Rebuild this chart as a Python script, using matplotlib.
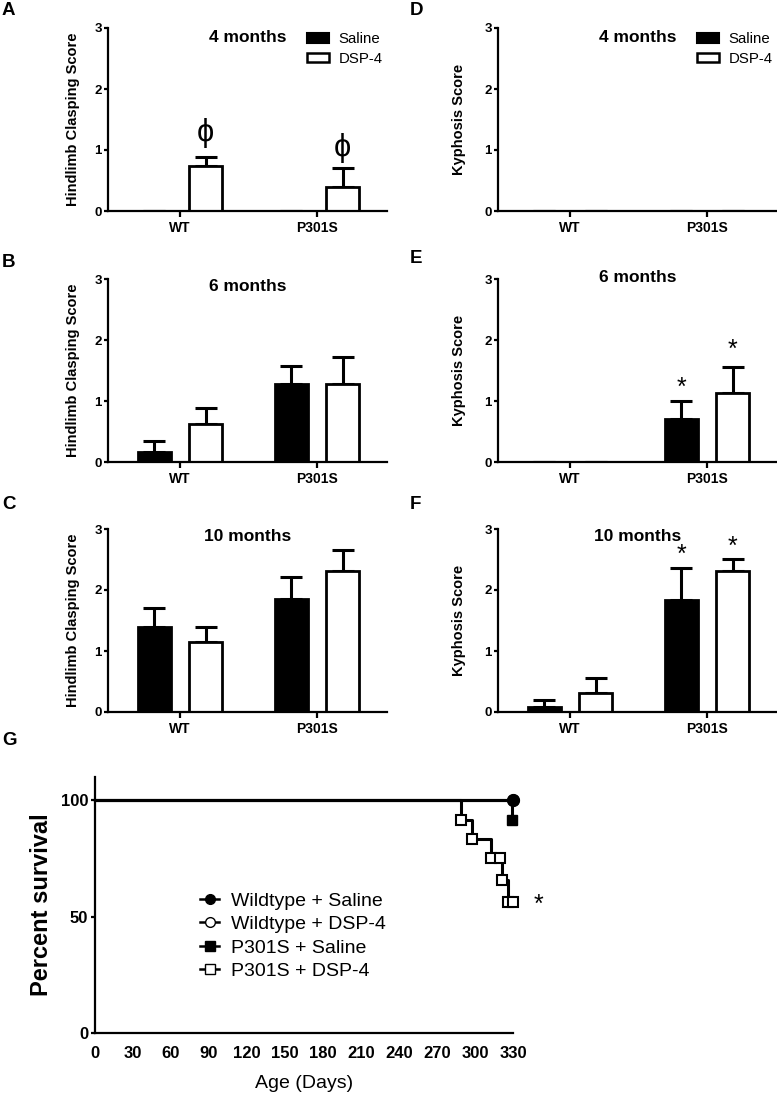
import matplotlib
matplotlib.use('Agg')
import matplotlib.pyplot as plt
import numpy as np
from matplotlib.patches import Patch
from matplotlib.lines import Line2D

plt.rcParams['font.family'] = ['Liberation Sans', 'DejaVu Sans']

# data
groups = ['WT', 'P301S']

# hindlimb clasping (A-C), mean and upper SEM
clasp_4_saline = [0.0, 0.0]
clasp_4_saline_err = [0.0, 0.0]
clasp_4_dsp = [0.73, 0.39]
clasp_4_dsp_err = [0.15, 0.31]

clasp_6_saline = [0.16, 1.28]
clasp_6_saline_err = [0.18, 0.29]
clasp_6_dsp = [0.62, 1.28]
clasp_6_dsp_err = [0.27, 0.44]

clasp_10_saline = [1.39, 1.85]
clasp_10_saline_err = [0.31, 0.37]
clasp_10_dsp = [1.15, 2.31]
clasp_10_dsp_err = [0.25, 0.35]

# kyphosis (D-F)
kyph_4_saline = [0.0, 0.0]
kyph_4_saline_err = [0.0, 0.0]
kyph_4_dsp = [0.0, 0.0]
kyph_4_dsp_err = [0.0, 0.0]

kyph_6_saline = [0.0, 0.70]
kyph_6_saline_err = [0.0, 0.30]
kyph_6_dsp = [0.0, 1.13]
kyph_6_dsp_err = [0.0, 0.42]

kyph_10_saline = [0.08, 1.84]
kyph_10_saline_err = [0.11, 0.52]
kyph_10_dsp = [0.31, 2.31]
kyph_10_dsp_err = [0.24, 0.20]

# survival (G)
wt_saline_days = [0, 330]
wt_saline_surv = [100, 100]
wt_dsp_days = [0, 330]
wt_dsp_surv = [100, 100]
p301s_saline_days = [0, 329]
p301s_saline_surv = [100, 91.7]
p301s_dsp_days = [0, 289, 298, 313, 320, 321, 326, 330]
p301s_dsp_surv = [100, 91.7, 83.3, 75.0, 75.0, 65.6, 56.3, 56.3]

W, H = 777, 1096
fig = plt.figure(figsize=(W / 100, H / 100), dpi=100)


def px_axes(left, top, right, bottom):
    return fig.add_axes([left / W, 1 - bottom / H, (right - left) / W, (bottom - top) / H])


x = np.arange(len(groups))
off = 0.188
bw = 0.24


def bar_panel(ax, sal, sal_err, dsp, dsp_err, ylabel, title, title_y, label_x):
    ax.errorbar(x - off, sal, yerr=[np.zeros(2), sal_err], fmt='none', ecolor='black',
                elinewidth=2.2, capsize=8, capthick=2.2, zorder=1)
    ax.errorbar(x + off, dsp, yerr=[np.zeros(2), dsp_err], fmt='none', ecolor='black',
                elinewidth=2.2, capsize=8, capthick=2.2, zorder=1)
    ax.bar(x - off, sal, bw, color='black', edgecolor='black', linewidth=2, zorder=2)
    ax.bar(x + off, dsp, bw, color='white', edgecolor='black', linewidth=2, zorder=2)
    ax.set_xlim(-0.526, 1.511)
    ax.set_ylim(0, 3)
    ax.set_yticks([0, 1, 2, 3])
    ax.set_xticks(x, groups)
    for s in ['top', 'right']:
        ax.spines[s].set_visible(False)
    for s in ['left', 'bottom']:
        ax.spines[s].set_linewidth(1.6)
        ax.spines[s].set_zorder(3)
    ax.tick_params(axis='x', length=4, width=1.6, pad=3, labelsize=10)
    ax.tick_params(axis='y', length=3, width=1.6, pad=1.5, labelsize=9.5)
    for t in ax.get_xticklabels() + ax.get_yticklabels():
        t.set_fontweight('bold')
    ax.set_ylabel(ylabel, fontsize=10.5, fontweight='bold')
    ax.yaxis.set_label_coords(label_x, 0.5)
    ax.text(0.5, title_y, title, transform=ax.get_yaxis_transform(), ha='center',
            va='center', fontsize=12.5, fontweight='bold')


def add_legend(ax):
    handles = [Patch(facecolor='black', edgecolor='black', linewidth=1.5),
               Patch(facecolor='white', edgecolor='black', linewidth=1.8)]
    ax.legend(handles, ['Saline', 'DSP-4'], loc='center left', bbox_to_anchor=(0.713, 0.885),
              frameon=False, fontsize=10.8, handlelength=1.5, handleheight=0.6,
              handletextpad=0.6, labelspacing=0.35, borderpad=0, borderaxespad=0)


axA = px_axes(108, 28, 387, 211)
bar_panel(axA, clasp_4_saline, clasp_4_saline_err, clasp_4_dsp, clasp_4_dsp_err,
          'Hindlimb Clasping Score', '4 months', 2.85, -0.1)
add_legend(axA)
axA.text(0 + off, 1.28, 'ϕ', ha='center', va='center', fontsize=22)
axA.text(1 + off, 1.03, 'ϕ', ha='center', va='center', fontsize=22)

axB = px_axes(108, 279, 387, 462)
bar_panel(axB, clasp_6_saline, clasp_6_saline_err, clasp_6_dsp, clasp_6_dsp_err,
          'Hindlimb Clasping Score', '6 months', 2.87, -0.1)

axC = px_axes(108, 529, 387, 712)
bar_panel(axC, clasp_10_saline, clasp_10_saline_err, clasp_10_dsp, clasp_10_dsp_err,
          'Hindlimb Clasping Score', '10 months', 2.87, -0.1)

axD = px_axes(498, 28, 777, 211)
bar_panel(axD, kyph_4_saline, kyph_4_saline_err, kyph_4_dsp, kyph_4_dsp_err,
          'Kyphosis Score', '4 months', 2.85, -0.113)
add_legend(axD)

axE = px_axes(498, 279, 777, 462)
bar_panel(axE, kyph_6_saline, kyph_6_saline_err, kyph_6_dsp, kyph_6_dsp_err,
          'Kyphosis Score', '6 months', 3.03, -0.113)
axE.text(1 - off, 1.21, '*', ha='center', va='center', fontsize=18)
axE.text(1 + off, 1.84, '*', ha='center', va='center', fontsize=18)

axF = px_axes(498, 529, 777, 712)
bar_panel(axF, kyph_10_saline, kyph_10_saline_err, kyph_10_dsp, kyph_10_dsp_err,
          'Kyphosis Score', '10 months', 2.87, -0.113)
axF.text(1 - off, 2.57, '*', ha='center', va='center', fontsize=18)
axF.text(1 + off, 2.71, '*', ha='center', va='center', fontsize=18)

# survival panel
axG = px_axes(95, 777, 513, 1033)
lw = 2.2
axG.step(p301s_dsp_days, p301s_dsp_surv, where='post', color='black', lw=lw, zorder=2,
         clip_on=False)
axG.plot(p301s_dsp_days[1:], p301s_dsp_surv[1:], 's', ms=7, mfc='white', mec='black',
         mew=1.5, zorder=3, clip_on=False)
axG.step(p301s_saline_days, p301s_saline_surv, where='post', color='black', lw=lw, zorder=2,
         clip_on=False)
axG.plot(p301s_saline_days[1:], p301s_saline_surv[1:], 's', ms=7, color='black', zorder=3,
         clip_on=False)
axG.step(wt_dsp_days, wt_dsp_surv, where='post', color='black', lw=lw, zorder=2, clip_on=False)
axG.plot(wt_dsp_days[1:], wt_dsp_surv[1:], 'o', ms=8, mfc='white', mec='black', zorder=3,
         clip_on=False)
axG.step(wt_saline_days, wt_saline_surv, where='post', color='black', lw=lw, zorder=4,
         clip_on=False)
axG.plot(wt_saline_days[1:], wt_saline_surv[1:], 'o', ms=8.5, color='black', zorder=5,
         clip_on=False)
axG.text(350.5, 55, '*', ha='center', va='center', fontsize=18)

axG.set_xlim(0, 330)
axG.set_ylim(0, 110)
axG.set_xticks(np.arange(0, 331, 30))
axG.set_yticks([0, 50, 100])
for s in ['top', 'right']:
    axG.spines[s].set_visible(False)
for s in ['left', 'bottom']:
    axG.spines[s].set_linewidth(1.6)
axG.tick_params(axis='x', length=0, pad=9, labelsize=12)
axG.tick_params(axis='y', length=3, width=1.6, pad=2, labelsize=12)
for t in axG.get_xticklabels() + axG.get_yticklabels():
    t.set_fontweight('bold')
axG.set_ylabel('Percent survival', fontsize=17, fontweight='bold')
axG.yaxis.set_label_coords(-0.1, 0.5)
axG.set_xlabel('Age (Days)', fontsize=14)
axG.xaxis.set_label_coords(0.5, -0.164)

g_handles = [
    Line2D([], [], color='black', lw=1.8, marker='o', ms=7, mfc='black', mec='black'),
    Line2D([], [], color='black', lw=1.8, marker='o', ms=7, mfc='white', mec='black'),
    Line2D([], [], color='black', lw=1.8, marker='s', ms=7, mfc='black', mec='black'),
    Line2D([], [], color='black', lw=1.8, marker='s', ms=7, mfc='white', mec='black'),
]
g_labels = ['Wildtype + Saline', 'Wildtype + DSP-4', 'P301S + Saline', 'P301S + DSP-4']
axG.legend(g_handles, g_labels, loc='center left', bbox_to_anchor=(0.251, 0.379),
           frameon=False, fontsize=14, handlelength=1.0, handletextpad=0.6,
           labelspacing=0.3, borderpad=0, borderaxespad=0)

# panel letters
letters = [('A', 2, 5), ('B', 2, 257), ('C', 2, 499), ('G', 2, 735),
           ('D', 410, 5), ('E', 410, 253), ('F', 410, 499)]
for lab, lx, ly in letters:
    fig.text(lx / W, 1 - (ly - 3) / H, lab, ha='left', va='top', fontsize=13.5,
             fontweight='bold')

fig.savefig('out.png', dpi=100)
